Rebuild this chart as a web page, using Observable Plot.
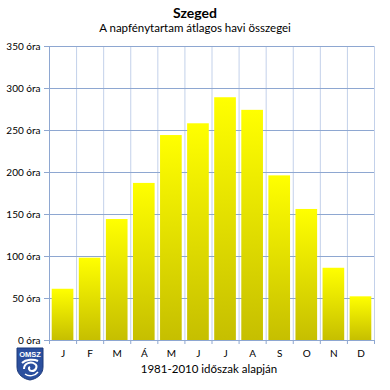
<!DOCTYPE html>
<html>
<head>
<meta charset="utf-8">
<script src="https://cdn.jsdelivr.net/npm/d3@7"></script>
<script src="https://cdn.jsdelivr.net/npm/@observablehq/plot@0.6"></script>
<style>
  body { margin: 0; background: #fff; }
  #wrap { position: relative; width: 390px; height: 390px; font-family: Lato, "Noto Sans", sans-serif; color: #000; }
  .t { position: absolute; left: 0; width: 390px; text-align: center; }
  #title { top: 4px; font-size: 14px; font-weight: bold; }
  #sub { top: 21px; font-size: 11.5px; }
  #cap { top: 362px; left: 14px; font-size: 11.5px; }
  #chart { position: absolute; left: 0; top: 0; }
  #logo { position: absolute; left: 16px; top: 347px; }
</style>
</head>
<body>
<svg width="0" height="0" style="position:absolute">
  <defs>
    <linearGradient id="barGrad" x1="0" y1="0" x2="0" y2="1">
      <stop offset="0" stop-color="#ffff00"/>
      <stop offset="1" stop-color="#c6bf00"/>
    </linearGradient>
  </defs>
</svg>
<div id="wrap">
  <div id="chart"></div>
  <div class="t" id="title">Szeged</div>
  <div class="t" id="sub">A napfénytartam átlagos havi összegei</div>
  <div class="t" id="cap">1981-2010 időszak alapján</div>
  <svg id="logo" width="28" height="34" viewBox="0 0 28 34">
    <path d="M1 1 H27 V20 C27 28 20 32 14 33 C8 32 1 28 1 20 Z" fill="#2b4f9e" stroke="#1d3a7a" stroke-width="1"/>
    <text x="14" y="10" text-anchor="middle" font-family="Liberation Sans, sans-serif" font-size="7.5" font-weight="bold" fill="#fff">OMSZ</text>
    <path d="M8 22 C8 16 15 14 19 17 C22 19 20 24 16 24 C13 24 12 21 14 20 M6 16 C10 12 18 12 22 14" fill="none" stroke="#fff" stroke-width="2"/>
    <path d="M9 27 C13 30 19 29 22 25" fill="none" stroke="#fff" stroke-width="1.5"/>
  </svg>
</div>
<script>
const months = ["J","F","M","Á","M","J","J","A","S","O","N","D"];
const hours = [61, 98, 144, 187, 244, 258, 289, 274, 196, 156, 86, 52];
const yTicks = [0, 50, 100, 150, 200, 250, 300, 350];

const data = months.map((m, i) => ({i, m, v: hours[i]}));
const bounds = d3.range(0, 13);
const centers = months.map((m, i) => i + 0.5);
const pad = 0.1;

const chart = Plot.plot({
  width: 390,
  height: 390,
  marginTop: 46,
  marginBottom: 50,
  marginLeft: 49,
  marginRight: 16,
  style: {fontFamily: "Lato, 'Noto Sans', sans-serif", fontSize: "10px", background: "transparent"},
  x: {type: "linear", domain: [0, 12], axis: null},
  y: {type: "linear", domain: [0, 350], axis: null},
  marks: [
    Plot.ruleX(bounds.slice(1), {stroke: "#c3d1ea", strokeWidth: 1}),
    Plot.ruleY(yTicks, {stroke: "#8ea7d1", strokeWidth: 1}),
    Plot.rect(data, {x1: d => d.i + pad, x2: d => d.i + 1 - pad, y1: () => 0, y2: "v", fill: "url(#barGrad)"}),
    Plot.ruleX([0], {stroke: "#8ea7d1", strokeWidth: 1}),
    Plot.ruleY([0], {stroke: "#8ea7d1", strokeWidth: 1}),
    Plot.axisX(bounds, {tickSize: 4, tickFormat: () => "", stroke: "#8ea7d1", label: null}),
    Plot.axisX(centers, {tickSize: 0, tickPadding: 9, tickFormat: d => months[Math.floor(d)], fill: "#000", fontSize: 10, label: null}),
    Plot.axisY(yTicks, {tickSize: 5, stroke: "#8ea7d1", tickFormat: d => d + " óra", tickPadding: 4, fill: "#000", fontSize: 10, label: null})
  ]
});
document.getElementById("chart").appendChild(chart);
</script>
</body>
</html>
